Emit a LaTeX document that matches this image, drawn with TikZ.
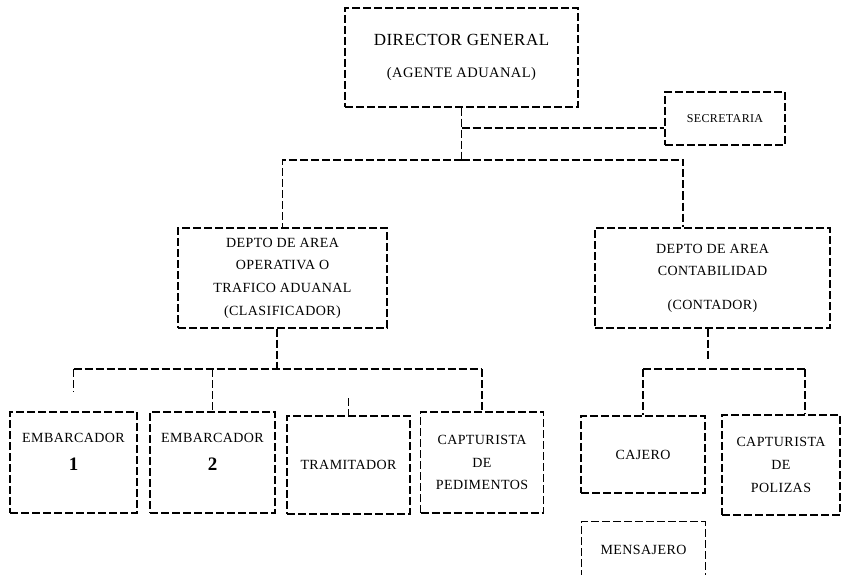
\documentclass[tikz,border=0pt]{standalone}
\usepackage{fontspec}
\setmainfont[LetterSpace=3]{Liberation Serif}
\usetikzlibrary{positioning}

\begin{document}
\begin{tikzpicture}[x=1pt, y=-1pt,
            box/.style={rectangle, draw, line width=1.1pt, dash pattern=on 8pt off 3pt, align=center, inner sep=0pt, font=\fontsize{14}{22.6}\selectfont},
            link/.style={line width=1.1pt, dash pattern=on 8pt off 3pt},
            txt/.style={align=center, inner sep=0pt, font=\fontsize{14}{28}\selectfont},
        ]
            \useasboundingbox (0,0) rectangle (849,575);

            % Direccion general y secretaria
            \node[box, minimum width=233pt, minimum height=99pt, font=\fontsize{17}{20}\selectfont] (dir) at (461.5,57.5) {DIRECTOR GENERAL\\[12pt]{\fontsize{14.5}{17}\selectfont (AGENTE ADUANAL)}};
            \node[box, minimum width=120pt, minimum height=53pt, font=\fontsize{12}{14}\selectfont] (sec) at (725,118.5) {SECRETARIA};

            % Departamentos
            \node[box, minimum width=209pt, minimum height=100pt] (op) at (282.5,278) {DEPTO DE AREA\\OPERATIVA O\\TRAFICO ADUANAL\\(CLASIFICADOR)};
            \node[box, minimum width=235pt, minimum height=100pt] (cont) at (712.5,278) {DEPTO DE AREA\\CONTABILIDAD\\[11pt](CONTADOR)};

            % Area operativa
            \node[box, minimum width=127pt, minimum height=101pt] (emb1) at (73.5,462.5) {};
            \node[txt] (emb1txt) at ([yshift=11pt]emb1.center) {EMBARCADOR\\{\fontsize{19}{19}\selectfont\bfseries 1}};
            \node[box, minimum width=125pt, minimum height=101pt] (emb2) at (212.5,462.5) {};
            \node[txt] (emb2txt) at ([yshift=11pt]emb2.center) {EMBARCADOR\\{\fontsize{19}{19}\selectfont\bfseries 2}};
            \node[box, minimum width=123pt, minimum height=98pt] (tram) at (348.5,465) {TRAMITADOR};
            \node[box, minimum width=123pt, minimum height=101pt] (cap) at (482,462.5) {CAPTURISTA\\DE\\PEDIMENTOS};

            % Area contable
            \node[box, minimum width=124pt, minimum height=77pt] (caj) at (643,454.5) {CAJERO};
            \node[box, minimum width=118pt, minimum height=100pt] (pol) at (781,465) {CAPTURISTA\\DE\\POLIZAS};
            \node[minimum width=123pt, minimum height=56pt, inner sep=0pt, font=\fontsize{14}{16}\selectfont] (mens) at (643.5,550) {MENSAJERO};
            \draw[link] (mens.south west) |- (mens.north east) -- (mens.south east);

            % Lineas de mando
            \coordinate (secjoin) at (461.5,128);
            \coordinate (topbus) at (461.5,160);
            \draw[link] (dir.south) -- (topbus);
            \draw[link] (secjoin) -- (secjoin -| sec.west);
            \draw[link] (topbus) -| (op.north);
            \coordinate (contin) at ([xshift=-29.5pt]cont.north);
            \draw[link] (topbus) -| (contin);

            \coordinate (opout) at ([xshift=-5.5pt]op.south);
            \coordinate (opbus) at (277,369);
            \coordinate (emb1stub) at (73.5,392);
            \coordinate (tramstub) at (348.5,398);
            \draw[link] (opout) -- (opbus);
            \draw[link] (emb1.north |- opbus) -- (cap.north |- opbus);
            \draw[link] (emb1.north |- opbus) -- (emb1stub);
            \draw[link] (emb2.north |- opbus) -- (emb2.north);
            \draw[link] (tramstub) -- (tram.north);
            \draw[link] (cap.north |- opbus) -- (cap.north);

            \coordinate (contout) at ([xshift=-4.5pt]cont.south);
            \coordinate (contstub) at (708,360);
            \coordinate (contbus) at (708,369);
            \coordinate (polin) at ([xshift=24pt]pol.north);
            \draw[link] (contout) -- (contstub);
            \draw[link] (caj.north |- contbus) -- (polin |- contbus);
            \draw[link] (caj.north |- contbus) -- (caj.north);
            \draw[link] (polin |- contbus) -- (polin);
        \end{tikzpicture}
\end{document}
